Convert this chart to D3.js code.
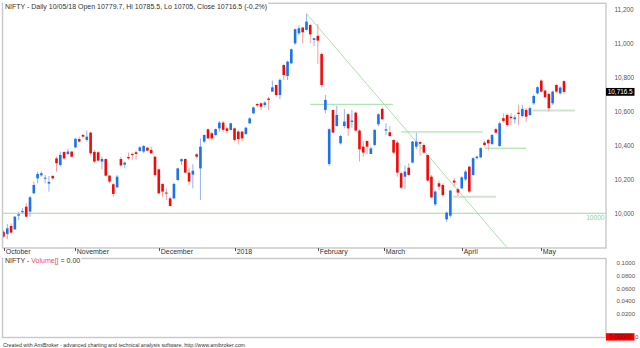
<!DOCTYPE html>
<html><head><meta charset="utf-8">
<script src="https://cdn.jsdelivr.net/npm/d3@7"></script>
<style>
html,body{margin:0;padding:0;background:#fff;}
svg{display:block;font-family:"Liberation Sans",Arial,sans-serif;}
</style></head><body>
<svg id="c" width="640" height="348"></svg>
<script>
// ---- data (bar index 0 = early Oct 2017, last = 10 May 2018) ----
const opens = [9891,9878,9925,9905,9986,10006,10039,10010,10118,10206,10224,10204,10175,10220,10324,10285,10362,10350,10364,
10389,10438,10462,10433,10476,10362,10360,10305,10320,10222,10171,10153,10320,10287,10332,10350,10360,10368,10364,10387,10374,10334,
10259,10173,10122,10088,10088,10196,10307,10320,10240,10228,10348,10265,10423,10496,10472,10462,10501,10535,10501,10492,
10501,10482,10482,10468,10531,10590,10645,10649,10639,10677,10718,10757,10698,10875,10810,10885,11003,11062,11096,11082,11111,11023,
11047,10940,10610,10291,10610,10515,10413,10515,10584,10539,10594,10488,10393,10427,10350,10403,10525,10616,10488,
10478,10433,10417,10236,10216,10269,10299,10393,10420,10403,10344,10216,10053,10177,10167,9964,9986,10193,10142,
10147,10200,10275,10226,10325,10330,10417,10433,10409,10496,10397,10561,10580,10570,10555,10594,10574,10610,10580,10649,10708,
10783,10724,10704,10649,10757,10708,10779.7];
const highs = [9901,9937,9941,9982,10009,10029,10059,10102,10187,10246,10246,10226,10220,10226,10334,10364,10364,10381,10366,
10442,10452,10468,10488,10482,10374,10366,10334,10324,10226,10177,10226,10334,10305,10358,10358,10370,10397,10403,10393,10393,10338,
10265,10177,10147,10098,10181,10269,10324,10324,10269,10289,10354,10442,10466,10500,10480,10500,10545,10545,10510,10535,
10506,10492,10486,10510,10566,10629,10649,10655,10662,10688,10783,10759,10795,10880,10900,10972,11090,11110,11100,11178,11118,11033,
11118,10948,10698,10501,10610,10634,10462,10615,10590,10610,10600,10496,10425,10427,10393,10496,10590,10625,10531,
10515,10433,10427,10246,10282,10295,10427,10476,10427,10413,10348,10226,10135,10192,10177,10010,10138,10206,10152,
10218,10256,10280,10330,10340,10390,10427,10440,10468,10505,10540,10590,10590,10590,10580,10640,10640,10620,10630,10700,10750,
10790,10730,10710,10724,10762,10750,10785.5];
const lows = [9852,9846,9878,9901,9960,9999,9976,9980,10114,10177,10216,10177,10128,10200,10246,10275,10314,10344,10330,
10383,10417,10448,10423,10344,10295,10305,10259,10216,10177,10098,10147,10275,10265,10315,10315,10315,10364,10354,10364,10350,10216,
10112,10098,10078,10039,10082,10192,10285,10236,10167,10147,10324,10078,10413,10438,10432,10457,10482,10478,10472,10488,
10423,10406,10425,10462,10527,10586,10625,10610,10625,10610,10718,10688,10673,10786,10786,10880,10993,11052,11003,11078,11003,10988,
10881,10743,10590,10279,10476,10511,10405,10501,10456,10505,10482,10305,10334,10350,10350,10397,10515,10551,10462,
10450,10350,10216,10141,10143,10222,10295,10378,10340,10354,10187,10088,10043,10137,10098,9950,9975,10157,10102,
10142,10190,10118,10220,10318,10325,10395,10370,10400,10470,10392,10535,10510,10520,10530,10522,10565,10540,10575,10640,10700,
10712,10680,10600,10640,10710,10700,10705];
const closes = [9862,9911,9886,9980,9994,10013,9980,10094,10167,10232,10236,10210,10185,10206,10295,10344,10324,10364,10334,
10440,10423,10452,10452,10354,10305,10311,10320,10222,10187,10114,10216,10283,10299,10324,10344,10350,10389,10397,10370,10354,10226,
10118,10128,10118,10043,10173,10265,10319,10240,10187,10251,10334,10393,10462,10442,10442,10497,10535,10492,10486,10531,
10433,10437,10442,10505,10560,10625,10637,10629,10653,10669,10743,10698,10787,10816,10895,10968,11086,11092,11068,11131,11056,11033,
11019,10757,10669,10496,10476,10580,10456,10541,10501,10547,10488,10378,10358,10393,10383,10492,10584,10555,10496,
10456,10358,10240,10151,10246,10226,10423,10423,10410,10358,10193,10094,10128,10157,10108,10004,10134,10181,10122,
10212,10246,10128,10325,10334,10384,10403,10413,10462,10476,10531,10545,10521,10561,10566,10586,10616,10570,10620,10692,10744,
10718,10685,10620,10718,10718,10742,10716.5];

const monthLabels = ["October","November","December","2018","February","March","April","May"];
const monthStart  = [0,19,41,61,83,100.6,121,142];
const priceTicks  = [10000,10200,10400,10600,10800,11000,11200];
const volTicks    = [0.02,0.04,0.06,0.08,0.1];
const lastClose   = 10716.5;
// green study lines
const trendIdx    = [80,134];
const trendVal    = [11178,9770];
const levelFrom   = [81,105,127.2,118.7,139.8];
const levelTo     = [102.8,126.6,138,130,150.9];
const levelVal    = [10643,10480,10384,10098,10606];
const levelPale   = [false,false,false,true,true];
const refLevel    = 10000;

const titleText = "NIFTY - Daily 10/05/18 Open 10779.7, Hi 10785.5, Lo 10705, Close 10716.5 (-0.2%)";

// ---- layout ----
const L=2.5, R=606, T=3.3, MB=248, VT=258.5, VB=337.5;
const svg=d3.select("#c");
const x=d3.scaleLinear().domain([0,opens.length-1]).range([3.5,564]);
const y=d3.scaleLinear().domain([9795,11235]).range([MB,4]);
const yv=d3.scaleLinear().domain([0,0.1]).range([327,262.7]);

const frameCol="#c8c8c8";
svg.append("rect").attr("x",L).attr("y",T).attr("width",R-L).attr("height",MB-T)
  .attr("fill","none").attr("stroke",frameCol).attr("stroke-width",1.4);
svg.append("rect").attr("x",L).attr("y",VT).attr("width",R-L).attr("height",VB-VT)
  .attr("fill","none").attr("stroke",frameCol).attr("stroke-width",1.4);

svg.append("clipPath").attr("id","pc").append("rect")
  .attr("x",L+0.7).attr("y",T+0.7).attr("width",R-L-1.4).attr("height",MB-T-1.4);
const g=svg.append("g").attr("clip-path","url(#pc)");

// reference 10000 line
g.append("line").attr("x1",L).attr("x2",R).attr("y1",y(refLevel)).attr("y2",y(refLevel))
  .attr("stroke","#9fd89f").attr("stroke-width",1);

// levels
levelVal.forEach((v,k)=>{
  g.append("line").attr("x1",x(levelFrom[k])).attr("x2",x(levelTo[k]))
   .attr("y1",y(v)).attr("y2",y(v))
   .attr("stroke",levelPale[k]?"#cfe3cf":"#9fdc9f")
   .attr("stroke-width",levelPale[k]?2:1);
});
// trend line
g.append("line").attr("x1",x(trendIdx[0])).attr("x2",x(trendIdx[1]))
  .attr("y1",y(trendVal[0])).attr("y2",y(trendVal[1]))
  .attr("stroke","#a6dca6").attr("stroke-width",0.9);

// candles
const upBody="#1a72f0", dnBody="#f00a0a", upWick="#93b3f3", dnWick="#f5a0a0";
const bw=2.6;
opens.forEach((o,i)=>{
  const c=closes[i], up=c>=o;
  const hi=Math.max(highs[i],o,c), lo=Math.min(lows[i],o,c);
  g.append("line").attr("x1",x(i)).attr("x2",x(i)).attr("y1",y(hi)).attr("y2",y(lo))
    .attr("stroke",up?upWick:dnWick).attr("stroke-width",1);
  const top=y(Math.max(o,c)), bot=y(Math.min(o,c));
  g.append("rect").attr("x",x(i)-bw/2).attr("y",top).attr("width",bw)
    .attr("height",Math.max(1,bot-top)).attr("fill",up?upBody:dnBody);
});

// 10000 label
svg.append("text").attr("x",R-1.5).attr("y",y(refLevel)+6.3).attr("text-anchor","end")
  .attr("font-size",6.6).attr("fill","#8fcf8f").text(String(refLevel));

// right price axis
priceTicks.forEach(v=>{
  svg.append("text").attr("x",614.5).attr("y",y(v)).attr("dy","0.35em")
    .attr("font-size",6.4).attr("fill","#555").text(d3.format(",")(v));
});
svg.append("rect").attr("x",R).attr("y",y(lastClose)-3.9).attr("width",28.5).attr("height",7.8).attr("fill","#000");
svg.append("text").attr("x",R+14.2).attr("y",y(lastClose)).attr("dy","0.35em").attr("text-anchor","middle")
  .attr("font-size",6.4).attr("fill","#fff").text(d3.format(",.1f")(lastClose));

// month axis
monthStart.forEach((i,k)=>{
  const xx=Math.round(x(i))+0.5;
  svg.append("line").attr("x1",xx).attr("x2",xx).attr("y1",MB).attr("y2",MB+3)
    .attr("stroke","#555").attr("stroke-width",1);
  svg.append("text").attr("x",xx+1.2).attr("y",MB+6).attr("font-size",7)
    .attr("fill","#333").text(monthLabels[k]);
});

// titles sitting on the frame
function frameTitle(yy, parts){
  const t=svg.append("text").attr("x",5).attr("y",yy).attr("font-size",7);
  parts.forEach(p=>t.append("tspan").attr("fill",p[1]).text(p[0]));
  const w=t.node().getComputedTextLength();
  svg.insert("rect","text").attr("x",3.4).attr("y",yy-7).attr("width",w+2.6).attr("height",6).attr("fill","#fff");
}
frameTitle(8.6,[[titleText,"#333"]]);
frameTitle(263,[["NIFTY - ","#333"],["Volume[]","#f05050"],[" = 0.00","#333"]]);

// volume panel axis
volTicks.forEach(v=>{
  svg.append("text").attr("x",616.5).attr("y",yv(v)).attr("dy","0.35em")
    .attr("font-size",6.1).attr("fill","#555").text(d3.format(".4f")(v));
});
svg.append("text").attr("x",635).attr("y",VB-0.8).attr("dy","0.35em")
  .attr("font-size",6.1).attr("fill","#555").text("0");
svg.append("rect").attr("x",R).attr("y",VB-4.3).attr("width",28.5).attr("height",7.4).attr("fill","#f00");
svg.append("text").attr("x",R+14.2).attr("y",VB-0.6).attr("dy","0.35em").attr("text-anchor","middle")
  .attr("font-size",6.3).attr("fill","#600").text("0.00000");

// footer
svg.append("text").attr("x",3).attr("y",346.5).attr("font-size",5.3).attr("fill","#333")
  .text("Created with AmiBroker - advanced charting and technical analysis software. http://www.amibroker.com");
</script>
</body></html>
